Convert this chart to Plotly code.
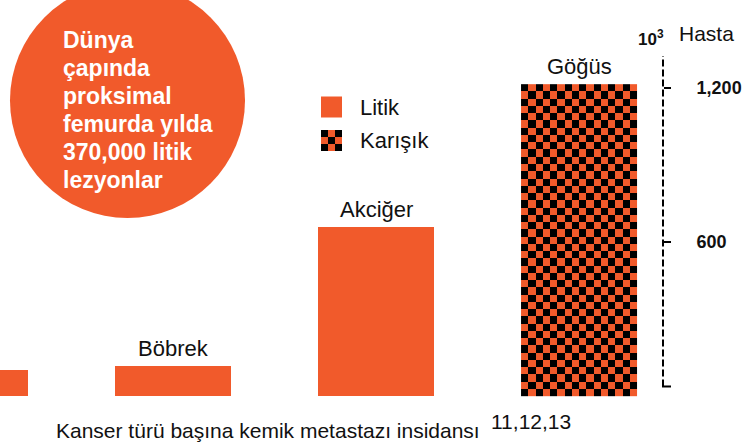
import plotly.graph_objects as go

# ---- data ----
categories = ["", "Böbrek", "Akciğer", "Göğüs"]
patients_k = [100, 115, 657, 1215]          # 10^3 Hasta
lesion_type = ["Litik", "Litik", "Litik", "Karışık"]
tick_vals = [600, 1200]
tick_text = ["600", "1,200"]
axis_span = [37, 1325]
circle_lines = ["Dünya", "çapında", "proksimal", "femurda yılda", "370,000 litik", "lezyonlar"]
caption = "Kanser türü başına kemik metastazı insidansı"
caption_refs = "11,12,13"
legend_items = ["Litik", "Karışık"]

ORANGE = "#F15A2B"
FONT = "Liberation Sans, Arial, sans-serif"
W, H = 749, 445
BAR_W = 0.571

xs = list(range(len(categories)))

bar_colors = [ORANGE if t == "Litik" else "rgba(0,0,0,0)" for t in lesion_type]
fig = go.Figure()
fig.add_trace(go.Bar(
    x=xs, y=patients_k, width=BAR_W,
    marker=dict(color=bar_colors, line=dict(width=0)),
    hoverinfo="skip", showlegend=False,
))

# checkerboard fill for "Karışık" bars
ncols = 16
cell_h = 28.25
for x, v, t in zip(xs, patients_k, lesion_type):
    if t != "Karışık":
        continue
    nrows = int(round(v / cell_h))
    xe = [x - BAR_W / 2 + i * BAR_W / ncols for i in range(ncols + 1)]
    ye = [v - j * v / nrows for j in range(nrows + 1)][::-1]
    z = []
    for r in range(nrows):
        rr = nrows - 1 - r  # count from top
        z.append([1 if (rr + c) % 2 == 0 else 0 for c in range(ncols)])
    fig.add_trace(go.Heatmap(
        x=xe, y=ye, z=z, zmin=0, zmax=1,
        colorscale=[[0, ORANGE], [0.5, ORANGE], [0.5, "black"], [1, "black"]],
        showscale=False, hoverinfo="skip", xgap=0, ygap=0,
    ))

# bar labels
for x, v, c in zip(xs, patients_k, categories):
    if c:
        fig.add_annotation(x=x, y=v, text=c, showarrow=False, xanchor="center",
                           yanchor="bottom", yshift=3,
                           font=dict(family=FONT, size=22, color="#111"))

AX_X = 663 / W
shapes = []
# dashed axis line
shapes.append(dict(type="line", xref="paper", yref="y", x0=AX_X, x1=AX_X,
                   y0=axis_span[0], y1=axis_span[1],
                   line=dict(color="black", width=2, dash="7px,3px")))
# bottom end tick
shapes.append(dict(type="line", xref="paper", yref="y", x0=AX_X - 1 / W, x1=AX_X + 8 / W,
                   y0=axis_span[0], y1=axis_span[0],
                   line=dict(color="black", width=2)))
# circle
shapes.append(dict(type="circle", xref="paper", yref="paper",
                   x0=10 / W, x1=245 / W, y0=1 - 218 / H, y1=1 + 17 / H,
                   fillcolor=ORANGE, line=dict(width=0), layer="below"))
# legend icons
sq = 21
lx0, ly_centers = 321, [107, 140.5]
shapes.append(dict(type="rect", xref="paper", yref="paper",
                   x0=lx0 / W, x1=(lx0 + sq) / W,
                   y0=1 - (ly_centers[0] + sq / 2) / H, y1=1 - (ly_centers[0] - sq / 2) / H,
                   fillcolor=ORANGE, line=dict(width=0)))
cs = sq / 3
top = ly_centers[1] - sq / 2
for r in range(3):
    for c in range(3):
        col = "black" if (r + c) % 2 == 0 else ORANGE
        shapes.append(dict(type="rect", xref="paper", yref="paper",
                           x0=(lx0 + c * cs) / W, x1=(lx0 + (c + 1) * cs) / W,
                           y0=1 - (top + (r + 1) * cs) / H, y1=1 - (top + r * cs) / H,
                           fillcolor=col, line=dict(width=0)))

for name, yc in zip(legend_items, ly_centers):
    fig.add_annotation(xref="paper", yref="paper", x=358 / W, y=1 - yc / H,
                       text=name, showarrow=False, xanchor="left", yanchor="middle",
                       font=dict(family=FONT, size=22, color="#111"))

# circle text
baselines = [47.7, 75.8, 103.9, 132.0, 160.2, 188.3]
for line, b in zip(circle_lines, baselines):
    fig.add_annotation(xref="paper", yref="paper", x=61 / W, y=1 - (b - 8) / H,
                       text=f"<b>{line}</b>", showarrow=False, xanchor="left", yanchor="middle",
                       font=dict(family=FONT, size=23, color="white"))

# axis header
fig.add_annotation(xref="paper", yref="paper", x=636 / W, y=1 - 38 / H,
                   text="<b>10<sup>3</sup></b>", showarrow=False, xanchor="left", yanchor="middle",
                   font=dict(family=FONT, size=17, color="#111"))
fig.add_annotation(xref="paper", yref="paper", x=677 / W, y=1 - 34 / H,
                   text="Hasta", showarrow=False, xanchor="left", yanchor="middle",
                   font=dict(family=FONT, size=21, color="#111"))

# caption
fig.add_annotation(xref="paper", yref="paper", x=54 / W, y=1 - 430 / H,
                   text=caption, showarrow=False, xanchor="left", yanchor="middle",
                   font=dict(family=FONT, size=21, color="#111"))
fig.add_annotation(xref="paper", yref="paper", x=489 / W, y=1 - 421 / H,
                   text=caption_refs, showarrow=False, xanchor="left", yanchor="middle",
                   font=dict(family=FONT, size=21, color="#111"))

x0 = 1 - 173 / 203
fig.update_layout(
    width=W, height=H, margin=dict(l=0, r=0, t=0, b=0),
    paper_bgcolor="white", plot_bgcolor="white",
    showlegend=False, shapes=shapes, bargap=0,
    xaxis=dict(range=[x0, x0 + W / 203], visible=False, fixedrange=True),
    yaxis=dict(range=[-191, 1543], side="right", anchor="free", position=AX_X,
               showgrid=False, zeroline=False, showline=False,
               tickvals=tick_vals, ticktext=tick_text, ticks="outside",
               ticklen=7, tickwidth=2, tickcolor="black", ticklabelstandoff=22,
               tickfont=dict(family=FONT, size=18, color="#111", weight="bold")),
)

fig.write_html("out.html")
